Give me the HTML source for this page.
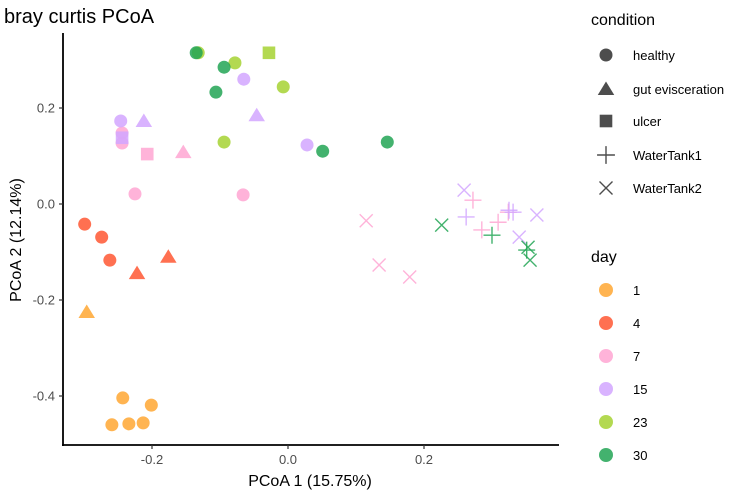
<!DOCTYPE html>
<html><head><meta charset="utf-8"><style>
html,body{margin:0;padding:0;background:#fff;}
svg{display:block;font-family:"Liberation Sans",Arial,sans-serif;}
</style></head><body>
<svg id="chart" width="750" height="495" viewBox="0 0 750 495" xmlns="http://www.w3.org/2000/svg">
<text x="4" y="23" font-size="20" fill="#000">bray curtis PCoA</text>
<g id="marks"></g>
<line x1="63" y1="33" x2="63" y2="446" stroke="#000" stroke-width="1.8"/>
<line x1="62" y1="445" x2="559" y2="445" stroke="#000" stroke-width="1.8"/>
<g id="xticks"></g>
<g id="yticks"></g>
<text x="310" y="486" font-size="16" text-anchor="middle">PCoA 1 (15.75%)</text>
<text transform="translate(21,240) rotate(-90)" font-size="16" text-anchor="middle">PCoA 2 (12.14%)</text>
<g id="legend"></g>
</svg>
<script>
const xTicks=[-0.2,0.0,0.2];
const xTickLabels=["-0.2","0.0","0.2"];
const yTicks=[0.2,0.0,-0.2,-0.4];
const yTickLabels=["0.2","0.0","-0.2","-0.4"];
const days=["1","4","7","15","23","30"];
const dayColors=["#FFA733","#FF5733","#FFA6D2","#D2A6FF","#A6D233","#22A555"];
const conditions=["healthy","gut evisceration","ulcer","WaterTank1","WaterTank2"];
// each point: [pc1, pc2, dayIndex, conditionIndex]
const pc1=[-0.243,-0.201,-0.259,-0.234,-0.213,-0.296,
 -0.299,-0.274,-0.262,-0.222,-0.176,
 -0.244,-0.244,-0.225,-0.066,-0.207,-0.154,0.115,0.134,0.179,0.272,0.285,0.309,0.324,
 -0.246,-0.065,0.028,-0.244,-0.212,-0.046,0.259,0.366,0.340,0.262,0.325,0.331,
 -0.132,-0.078,-0.007,-0.094,-0.028,
 -0.135,-0.094,-0.106,0.051,0.146,0.226,0.356,0.353,0.300,0.351];
const pc2=[-0.404,-0.419,-0.460,-0.458,-0.456,-0.225,
 -0.042,-0.069,-0.117,-0.144,-0.110,
 0.148,0.127,0.021,0.019,0.104,0.108,-0.035,-0.127,-0.152,0.008,-0.054,-0.038,-0.017,
 0.173,0.260,0.123,0.138,0.173,0.185,0.029,-0.023,-0.069,-0.027,-0.013,-0.017,
 0.315,0.294,0.244,0.129,0.315,
 0.315,0.285,0.233,0.110,0.129,-0.044,-0.117,-0.090,-0.065,-0.096];
const dayIdx=[0,0,0,0,0,0, 1,1,1,1,1, 2,2,2,2,2,2,2,2,2,2,2,2,2, 3,3,3,3,3,3,3,3,3,3,3,3, 4,4,4,4,4, 5,5,5,5,5,5,5,5,5,5];
const condIdx=[0,0,0,0,0,1, 0,0,0,1,1, 0,0,0,0,2,1,4,4,4,3,3,3,3, 0,0,0,2,1,1,4,4,4,3,3,3, 0,0,0,0,2, 0,0,0,0,0,4,4,4,3,3];

const NS="http://www.w3.org/2000/svg";
function X(v){return 288+680*v;}
function Y(v){return 204-480*v;}
function mk(tag,attrs){const e=document.createElementNS(NS,tag);for(const k in attrs)e.setAttribute(k,attrs[k]);return e;}
function shape(c,cx,cy,color,op,scale){
  const g=mk('g',{});
  const s=scale||1;
  if(c===0){g.appendChild(mk('circle',{cx:cx,cy:cy,r:6.5*s,fill:color,'fill-opacity':op}));}
  else if(c===1){const h=7.5*s;g.appendChild(mk('polygon',{points:`${cx},${cy-h} ${cx-h*1.1},${cy+h*0.8} ${cx+h*1.1},${cy+h*0.8}`,fill:color,'fill-opacity':op}));}
  else if(c===2){const h=6.3*s;g.appendChild(mk('rect',{x:cx-h,y:cy-h,width:2*h,height:2*h,fill:color,'fill-opacity':op}));}
  else if(c===3){const h=8.5*s;g.appendChild(mk('path',{d:`M${cx-h},${cy}H${cx+h}M${cx},${cy-h}V${cy+h}`,stroke:color,'stroke-opacity':op,'stroke-width':1.4,fill:'none'}));}
  else {const h=6.5*s;g.appendChild(mk('path',{d:`M${cx-h},${cy-h}L${cx+h},${cy+h}M${cx-h},${cy+h}L${cx+h},${cy-h}`,stroke:color,'stroke-opacity':op,'stroke-width':1.4,fill:'none'}));}
  return g;
}
const marks=document.getElementById('marks');
for(let i=0;i<pc1.length;i++){
  const g=shape(condIdx[i],X(pc1[i]),Y(pc2[i]),dayColors[dayIdx[i]],0.85);
  
  
  marks.appendChild(g);
}
const xt=document.getElementById('xticks');
xTicks.forEach((v,i)=>{
  const l=mk('line',{x1:X(v),x2:X(v),y1:445,y2:449,stroke:'#333','stroke-width':1.2});
  
  
  xt.appendChild(l);
  const t=mk('text',{x:X(v),y:464,'font-size':13,fill:'#4d4d4d','text-anchor':'middle'});
  t.textContent=xTickLabels[i];
  
  
  xt.appendChild(t);
});
const yt=document.getElementById('yticks');
yTicks.forEach((v,i)=>{
  const l=mk('line',{x1:59,x2:63,y1:Y(v),y2:Y(v),stroke:'#333','stroke-width':1.2});
  
  
  yt.appendChild(l);
  const t=mk('text',{x:55,y:Y(v)+4.5,'font-size':13,fill:'#4d4d4d','text-anchor':'end'});
  t.textContent=yTickLabels[i];
  
  
  yt.appendChild(t);
});
const lg=document.getElementById('legend');
function ltext(x,y,s,size,name){const t=mk('text',{x:x,y:y,'font-size':size,fill:'#000'});t.textContent=s;lg.appendChild(t);}
ltext(591,25,'condition',16,'legend-title-condition');
const condY=[55,89,121,155,188];
conditions.forEach((c,i)=>{
  const g=shape(i,606,condY[i],'#4d4d4d',1,i===3?1.05:1);
  
  
  lg.appendChild(g);
  ltext(633,condY[i]+5,c,13,'legend-label');
});
ltext(591,262,'day',16,'legend-title-day');
days.forEach((d,i)=>{
  const y=290+33*i;
  const c=mk('circle',{cx:606,cy:y,r:7,fill:dayColors[i],'fill-opacity':0.85});
  
  
  lg.appendChild(c);
  ltext(633,y+5,d,13,'legend-label');
});
</script>
</body></html>
